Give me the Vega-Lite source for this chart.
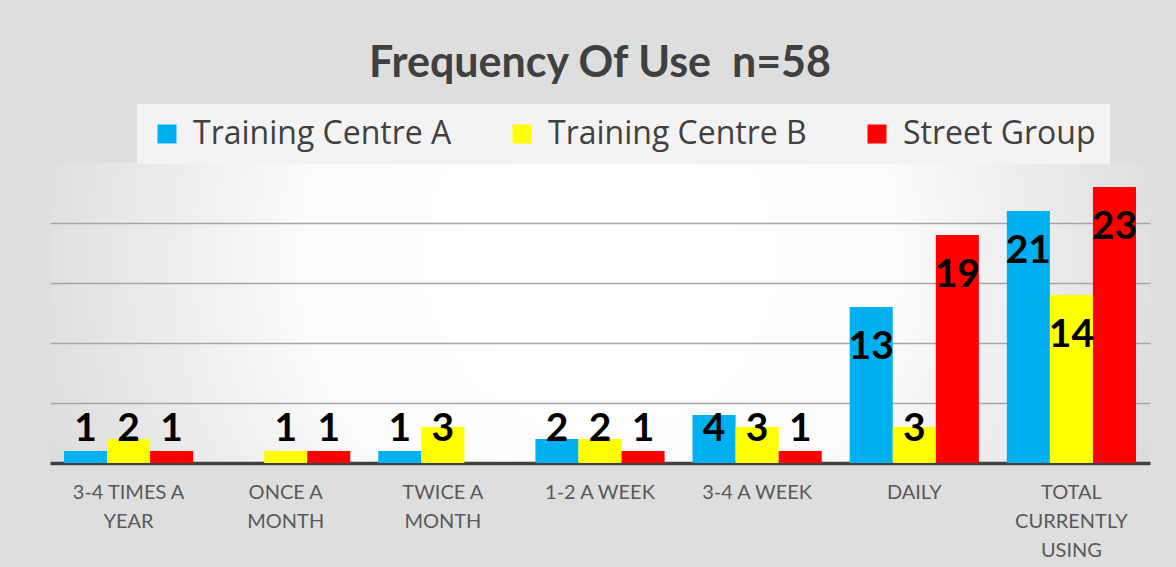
{
  "$schema": "https://vega.github.io/schema/vega-lite/v6.json",
  "width": 1100,
  "height": 300,
  "autosize": {"type": "none"},
  "padding": {"left": 50, "top": 163, "right": 26, "bottom": 104},
  "background": "#dedede",
  "title": {
    "text": "Frequency Of Use\u00a0 n=58",
    "font": "Lato",
    "fontSize": 43,
    "fontWeight": "bold",
    "color": "#404040",
    "anchor": "middle",
    "frame": "group",
    "baseline": "alphabetic",
    "offset": -16
  },
  "data": {
    "values": [
      {"frequency": "3-4 TIMES A YEAR", "group": "Training Centre A", "value": 1},
      {"frequency": "3-4 TIMES A YEAR", "group": "Training Centre B", "value": 2},
      {"frequency": "3-4 TIMES A YEAR", "group": "Street Group", "value": 1},
      {"frequency": "ONCE A MONTH", "group": "Training Centre B", "value": 1},
      {"frequency": "ONCE A MONTH", "group": "Street Group", "value": 1},
      {"frequency": "TWICE A MONTH", "group": "Training Centre A", "value": 1},
      {"frequency": "TWICE A MONTH", "group": "Training Centre B", "value": 3},
      {"frequency": "1-2 A WEEK", "group": "Training Centre A", "value": 2},
      {"frequency": "1-2 A WEEK", "group": "Training Centre B", "value": 2},
      {"frequency": "1-2 A WEEK", "group": "Street Group", "value": 1},
      {"frequency": "3-4 A WEEK", "group": "Training Centre A", "value": 4},
      {"frequency": "3-4 A WEEK", "group": "Training Centre B", "value": 3},
      {"frequency": "3-4 A WEEK", "group": "Street Group", "value": 1},
      {"frequency": "DAILY", "group": "Training Centre A", "value": 13},
      {"frequency": "DAILY", "group": "Training Centre B", "value": 3},
      {"frequency": "DAILY", "group": "Street Group", "value": 19},
      {"frequency": "TOTAL CURRENTLY USING", "group": "Training Centre A", "value": 21},
      {"frequency": "TOTAL CURRENTLY USING", "group": "Training Centre B", "value": 14},
      {"frequency": "TOTAL CURRENTLY USING", "group": "Street Group", "value": 23}
    ]
  },
  "encoding": {
    "x": {
      "field": "frequency",
      "type": "nominal",
      "sort": ["3-4 TIMES A YEAR", "ONCE A MONTH", "TWICE A MONTH", "1-2 A WEEK", "3-4 A WEEK", "DAILY", "TOTAL CURRENTLY USING"],
      "scale": {"paddingInner": 0.178, "paddingOuter": 0.089},
      "axis": {
        "title": null,
        "labelAngle": 0,
        "labelFont": "Lato",
        "labelFontSize": 20,
        "labelColor": "#595959",
        "labelPadding": 19,
        "labelLineHeight": 29,
        "labelBaseline": "top",
        "ticks": false,
        "domainColor": "#404040",
        "domainWidth": 3.5,
        "labelExpr": "datum.value == '3-4 TIMES A YEAR' ? ['3-4 TIMES A', 'YEAR'] : datum.value == 'ONCE A MONTH' ? ['ONCE A', 'MONTH'] : datum.value == 'TWICE A MONTH' ? ['TWICE A', 'MONTH'] : datum.value == 'TOTAL CURRENTLY USING' ? ['TOTAL', 'CURRENTLY', 'USING'] : datum.value"
      }
    },
    "xOffset": {
      "field": "group",
      "type": "nominal",
      "sort": ["Training Centre A", "Training Centre B", "Street Group"],
      "scale": {"paddingInner": 0, "paddingOuter": 0}
    }
  },
  "layer": [
    {
      "mark": {"type": "bar"},
      "encoding": {
        "y": {
          "field": "value",
          "type": "quantitative",
          "scale": {"domain": [0, 25], "nice": false},
          "axis": {
            "title": null,
            "labels": false,
            "ticks": false,
            "domain": false,
            "grid": true,
            "gridColor": "#a6a6a6",
            "gridWidth": 1.5,
            "values": [5, 10, 15, 20]
          }
        },
        "color": {
          "field": "group",
          "type": "nominal",
          "sort": ["Training Centre A", "Training Centre B", "Street Group"],
          "scale": {
            "domain": ["Training Centre A", "Training Centre B", "Street Group"],
            "range": ["#00B0F0", "#FFFF00", "#FF0000"]
          },
          "legend": {
            "title": null,
            "orient": "none",
            "direction": "horizontal",
            "legendX": 87,
            "legendY": -59,
            "symbolType": "square",
            "symbolSize": 361,
            "symbolStrokeWidth": 0,
            "symbolOpacity": 1,
            "labelFont": "Open Sans",
            "labelFontSize": 32,
            "labelColor": "#404040",
            "labelOffset": 10,
            "labelLimit": 400,
            "columnPadding": 54,
            "padding": 14,
            "fillColor": "#f3f3f3"
          }
        }
      }
    },
    {
      "transform": [{"calculate": "max(datum.value, 6.2)", "as": "labelPos"}],
      "mark": {
        "type": "text",
        "dy": 40,
        "baseline": "middle",
        "font": "Lato",
        "fontWeight": "bold",
        "fontSize": 39,
        "color": "#000000"
      },
      "encoding": {
        "y": {"field": "labelPos", "type": "quantitative", "scale": {"domain": [0, 25], "nice": false}},
        "text": {"field": "value", "type": "quantitative"}
      }
    }
  ],
  "config": {
    "view": {
      "stroke": null,
      "fill": {
        "gradient": "radial",
        "x1": 0.5, "y1": 0.45, "r1": 0,
        "x2": 0.5, "y2": 0.45, "r2": 0.6,
        "stops": [
          {"offset": 0, "color": "#ffffff"},
          {"offset": 0.45, "color": "#fbfbfb"},
          {"offset": 1, "color": "#d4d4d4"}
        ]
      }
    }
  }
}
